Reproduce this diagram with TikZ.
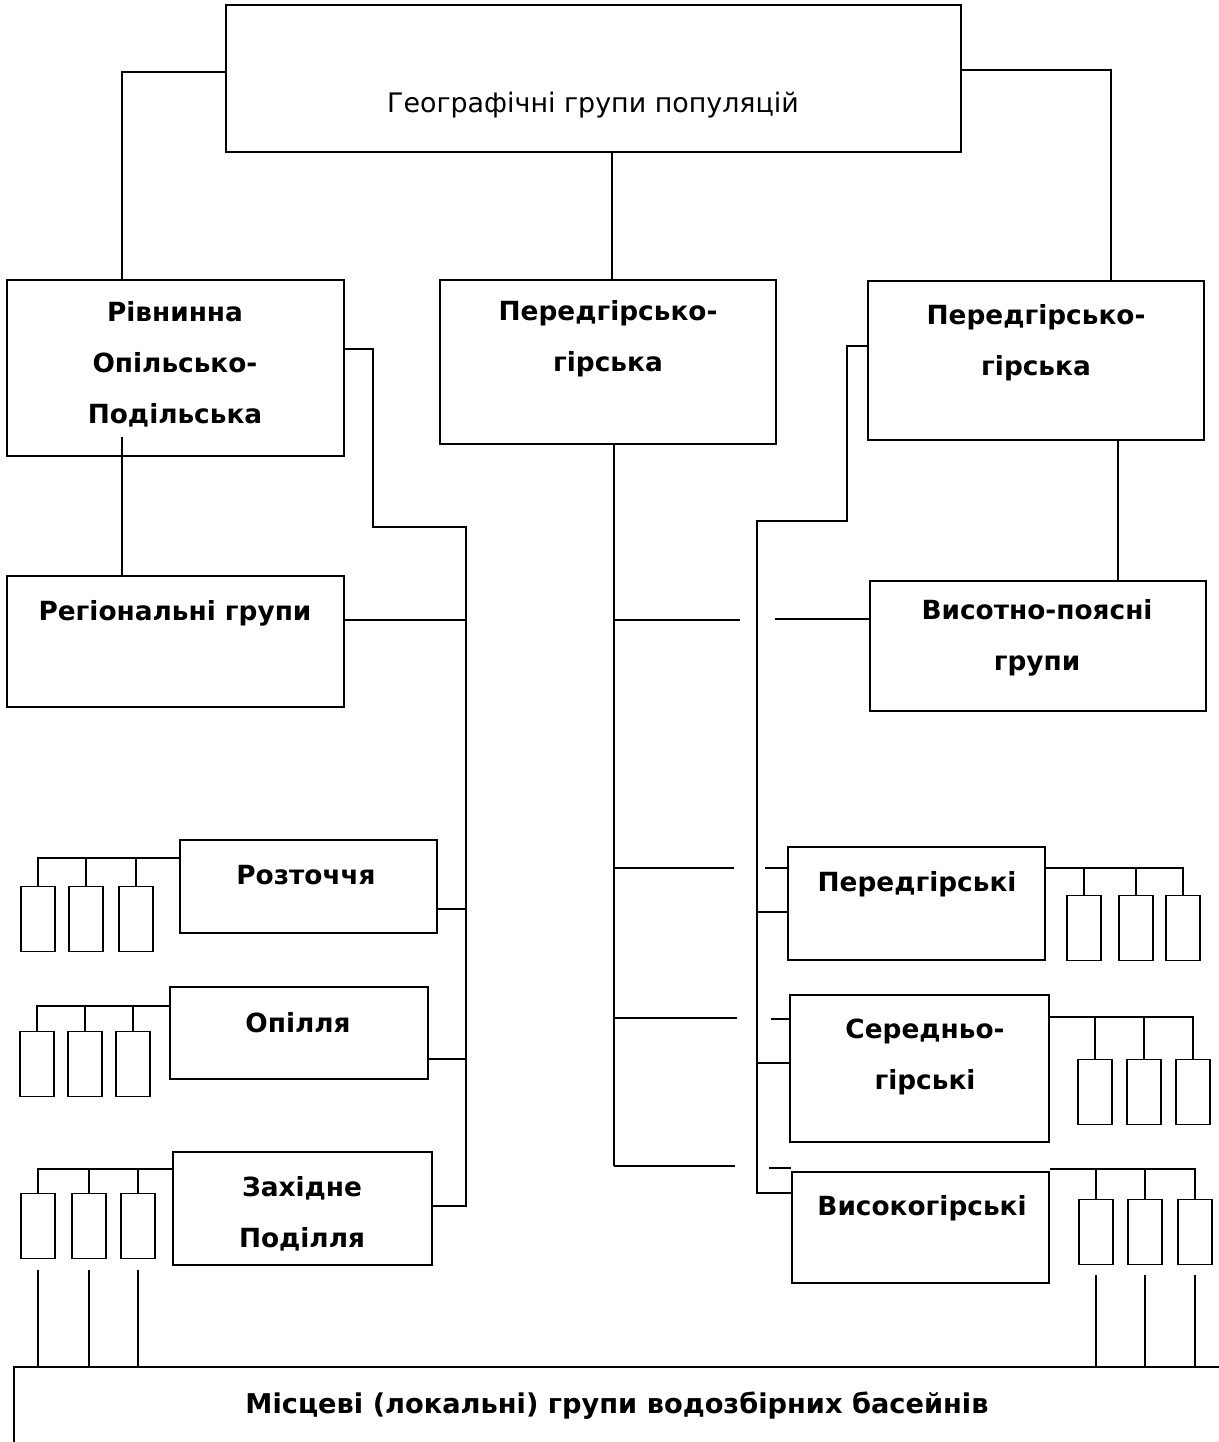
\documentclass[tikz,border=0pt]{standalone}
\usepackage{fontspec}
\setmainfont{DejaVu Sans}
\usepackage{tikz}
\usetikzlibrary{fit}
\tikzset{
	box/.style={draw, inner sep=0pt},
	cell/.style={draw, inner sep=0pt, minimum width=0.68cm, minimum height=1.3cm},
	lbl/.style={font=\bfseries\fontsize{15}{29}\selectfont, align=center, inner sep=0pt}
}

\begin{document}
\begin{tikzpicture}[x=0.02cm, y=-0.02cm, line width=0.9pt]
	\useasboundingbox (0,0) rectangle (1219,1442);
	\clip (0,0) rectangle (1219,1442);

	% upper levels
	\node[box, fit={(226,5) (961,152)}] (geo) {};
	\node[font=\fontsize{15.3}{18}\selectfont, inner sep=0pt] (geot) at (593,105) {Географічні групи популяцій};
	\node[box, fit={(7,280) (344,456)}] (plain) {};
	\node[lbl] (plaint) at (175,364) {Рівнинна\\Опільсько-\\Подільська};
	\node[box, fit={(440,280) (776,444)}] (foot) {};
	\node[lbl] (foott) at (608,339) {Передгірсько-\\гірська};
	\node[box, fit={(868,281) (1204,440)}] (mount) {};
	\node[lbl] (mountt) at (1036,343) {Передгірсько-\\гірська};
	\node[box, fit={(7,576) (344,707)}] (reg) {};
	\node[lbl] (regt) at (175,613) {Регіональні групи};
	\node[box, fit={(870,581) (1206,711)}] (alt) {};
	\node[lbl] (altt) at (1037,638) {Висотно-поясні\\групи};

	% regional groups
	\node[box, fit={(180,840) (437,933)}] (roz) {};
	\node[lbl] (rozt) at (306,875) {Розточчя};
	\node[box, fit={(170,987) (428,1079)}] (opi) {};
	\node[lbl] (opit) at (298,1023) {Опілля};
	\node[box, fit={(173,1152) (432,1265)}] (zap) {};
	\node[lbl] (zapt) at (302,1214) {Західне\\Поділля};

	% altitude groups
	\node[box, fit={(788,847) (1045,960)}] (per) {};
	\node[lbl] (pert) at (917,884) {Передгірські};
	\node[box, fit={(790,995) (1049,1142)}] (ser) {};
	\node[lbl] (sert) at (925,1057) {Середньо-\\гірські};
	\node[box, fit={(792,1172) (1049,1283)}] (vis) {};
	\node[lbl] (vist) at (922,1208) {Високогірські};

	% local groups
	\node[box, fit={(14,1367) (1240,1470)}] (loc) {};
	\node[lbl, font=\bfseries\fontsize{15.5}{18}\selectfont] (loct) at (617,1406) {Місцеві (локальні) групи водозбірних басейнів};

	% small cells
	\foreach \g/\y/\a/\b/\c in {
		roz/919/38/86/136, opi/1064/37/85/133, zap/1226/38/89/138,
		per/928/1084/1136/1183, ser/1092/1095/1144/1193, vis/1232/1096/1145/1195
	}{
		\node[cell] (\g1) at (\a,\y) {};
		\node[cell] (\g2) at (\b,\y) {};
		\node[cell] (\g3) at (\c,\y) {};
	}
	\foreach \g/\h in {roz/858, opi/1006, zap/1169}{
		\draw (\g.west |- 0,\h) -| (\g1.north);
		\draw (\g2.north) -- (\g2.north |- 0,\h);
		\draw (\g3.north) -- (\g3.north |- 0,\h);
	}
	\foreach \g/\h in {per/868, ser/1017, vis/1169}{
		\draw (\g.east |- 0,\h) -| (\g3.north);
		\draw (\g1.north) -- (\g1.north |- 0,\h);
		\draw (\g2.north) -- (\g2.north |- 0,\h);
	}
	\foreach \n in {1,2,3}{
		\draw ([yshift=-0.22cm]zap\n.south) -- (zap\n.south |- loc.north);
		\draw ([yshift=-0.2cm]vis\n.south) -- (vis\n.south |- loc.north);
	}

	% top links
	\draw (geo.west |- 0,72) -| (122,0 |- plain.north);
	\draw (geo.east |- 0,70) -| (1111,0 |- mount.north);
	\draw (612,0 |- geo.south) -- (612,0 |- foot.north);

	% left branch
	\draw (122,437) -- (122,0 |- reg.north);
	\draw (plain.east |- 0,349) -| (373,527) -| (466,1206) -- (zap.east |- 0,1206);
	\foreach \g/\h in {reg/620, roz/909, opi/1059}
		\draw (\g.east |- 0,\h) -- (466,\h);

	% middle branch
	\draw (614,0 |- foot.south) -- (614,1166);
	\foreach \h/\e in {620/740, 868/734, 1018/737, 1166/735}
		\draw (614,\h) -- (\e,\h);

	% right branch
	\draw (mount.west |- 0,346) -| (847,521) -| (757,1193) -- (vis.west |- 0,1193);
	\draw (1118,0 |- mount.south) -- (1118,0 |- alt.north);
	\draw (alt.west |- 0,619) -- (775,619);
	\foreach \g/\h/\s in {per/868/765, ser/1019/771, vis/1168/769}
		\draw (\s,\h) -- (\g.west |- 0,\h);
	\foreach \g/\h in {per/912, ser/1063}
		\draw (757,\h) -- (\g.west |- 0,\h);
\end{tikzpicture}
\end{document}
